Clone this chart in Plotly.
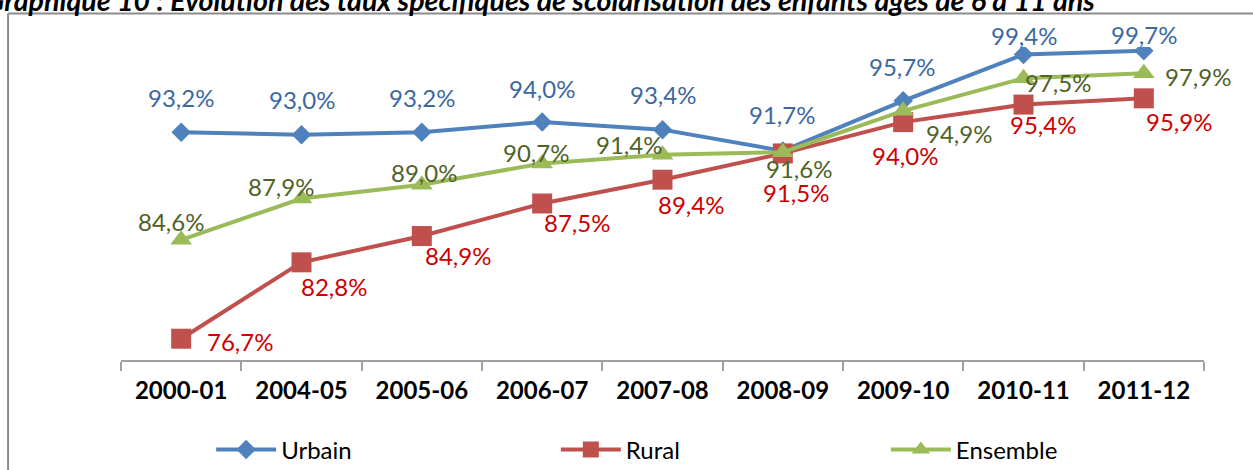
import plotly.graph_objects as go

# ---- data ----
categories = ["2000-01", "2004-05", "2005-06", "2006-07", "2007-08",
              "2008-09", "2009-10", "2010-11", "2011-12"]
urbain = [93.2, 93.0, 93.2, 94.0, 93.4, 91.7, 95.7, 99.4, 99.7]
rural = [76.7, 82.8, 84.9, 87.5, 89.4, 91.5, 94.0, 95.4, 95.9]
ensemble = [84.6, 87.9, 89.0, 90.7, 91.4, 91.6, 94.9, 97.5, 97.9]
series_names = ["Urbain", "Rural", "Ensemble"]
title_text = "Graphique 10 : Evolution des taux spécifiques de scolarisation des enfants âgés de 6 à 11 ans"

# ---- label offsets (pixels, dx right, dy down) ----
off_urbain = [(0, -35), (0, -35), (0, -35), (0, -34), (0, -35), (-1, -36), (-1, -34), (0, -19), (0, -16)]
off_rural = [(59, 3), (32, 24), (36, 19), (35, 19), (28, 25), (13, 39), (2, 33), (19, 20), (35, 23)]
off_ens = [(-10, -18), (-21, -12), (2, -12), (-6, -11), (-34, -10), (16, 16), (56, 23), (34, 4), (54, 3)]

line_colors = ["#4F81BD", "#C0504D", "#9BBB59"]
label_colors = ["#3B68A0", "#CC0000", "#4F6228"]
symbols = ["diamond", "square", "triangle-up"]
msizes = [15, 20, 19]
legend_ids = ["legend", "legend2", "legend3"]
legend_x = [0.1685, 0.4436, 0.7070]
FONT = "Lato"

fig = go.Figure()
all_series = [urbain, rural, ensemble]
all_offs = [off_urbain, off_rural, off_ens]
for name, vals, col, sym, ms, lid in zip(series_names, all_series, line_colors, symbols, msizes, legend_ids):
    fig.add_trace(go.Scatter(
        x=categories, y=vals, name=name, mode="lines+markers",
        line=dict(color=col, width=4),
        marker=dict(symbol=sym, size=ms, color=col, line=dict(width=0)),
        hoverinfo="skip", legend=lid,
    ))

annotations = []
for vals, offs, lc in zip(all_series, all_offs, label_colors):
    for cat, v, (dx, dy) in zip(categories, vals, offs):
        annotations.append(dict(
            x=cat, y=v, xref="x", yref="y",
            text=f"{v:.1f}%".replace(".", ","),
            showarrow=False, xshift=dx, yshift=-dy,
            font=dict(family=FONT, size=24, color=lc),
            xanchor="center", yanchor="middle",
        ))

# title (partly cut off at the top, as in the reference)
annotations.append(dict(
    x=0.901, y=1.090, xref="paper", yref="paper",
    text=f"<b><i>{title_text}</i></b>", showarrow=False,
    xanchor="right", yanchor="bottom",
    font=dict(family=FONT, size=28.6, color="#000000"),
))

shapes = [
    dict(type="line", xref="paper", yref="paper", x0=-0.1043, x1=1.05, y0=1.107, y1=1.107,
         line=dict(color="#8C8C8C", width=2)),
    dict(type="line", xref="paper", yref="paper", x0=-0.1043, x1=-0.1043, y0=1.107, y1=-0.36,
         line=dict(color="#8C8C8C", width=2)),
]

legends = {}
for lid, lx in zip(legend_ids, legend_x):
    legends[lid] = dict(orientation="h", xref="container", yref="container",
                        x=lx, xanchor="left", y=0.0426, yanchor="middle",
                        font=dict(family=FONT, size=24, color="#000000"),
                        bgcolor="rgba(0,0,0,0)", itemwidth=60)

fig.update_layout(
    width=1253, height=470,
    margin=dict(l=121, r=49, t=47, b=110),
    paper_bgcolor="white", plot_bgcolor="white",
    showlegend=True,
    xaxis=dict(type="category", showline=True, linecolor="#A0A0A0", linewidth=1.5,
               ticks="outside", tickson="boundaries", ticklen=9, tickcolor="#A0A0A0",
               tickwidth=1.5, showgrid=False, zeroline=False, ticklabelstandoff=8,
               tickfont=dict(family=FONT, size=24, color="#000000", weight="bold"),
               range=[-0.5, 8.5]),
    yaxis=dict(range=[75, 100], visible=False, showgrid=False, zeroline=False),
    annotations=annotations,
    shapes=shapes,
    **legends,
)

fig.write_html(
    "out.html",
    config={"displayModeBar": False},
    post_script="document.body.style.margin='0';document.body.style.overflow='hidden';",
)
